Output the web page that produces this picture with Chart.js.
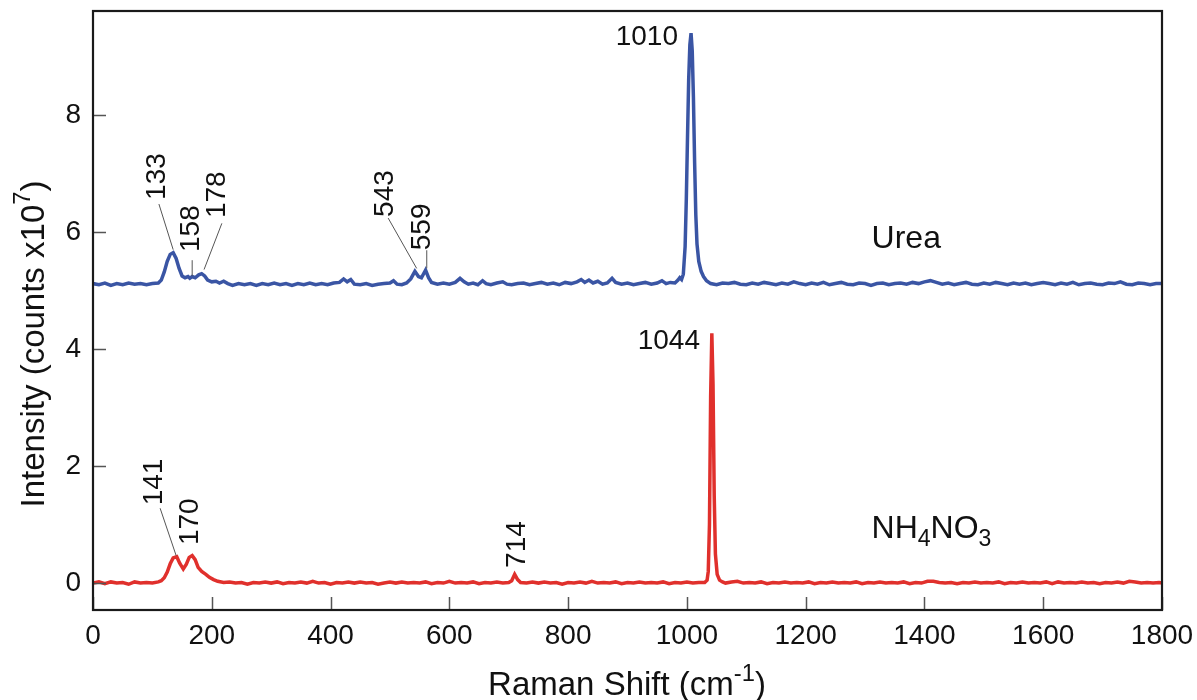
<!DOCTYPE html>
<html>
<head>
<meta charset="utf-8">
<script src="https://cdn.jsdelivr.net/npm/chart.js@4.4.1/dist/chart.umd.min.js"></script>
<style>
  html, body { margin: 0; padding: 0; background: #fff; }
  #wrap { width: 1197px; height: 700px; }
</style>
</head>
<body>
<div id="wrap"><canvas id="ramanChart" width="1197" height="700"></canvas></div>
<script>
// Raman shift (cm-1) and intensity (counts x10^7)
const ureaShift = [0,10,20,30,40,50,60,70,80,90,100,110,115,120,125,130,135,140,145,150,155,160,163,167,172,178,183,188,193,200,207,213,220,227,235,245,255,265,275,285,295,305,315,325,335,345,355,365,375,385,395,405,415,422,428,434,440,450,460,470,480,490,500,506,512,520,528,535,542,548,553,560,565,570,580,590,600,610,618,625,632,640,648,656,662,670,680,690,697,705,715,725,735,745,755,765,775,785,795,805,815,822,828,835,842,850,858,866,874,880,890,900,910,920,930,940,950,958,965,972,980,985,988,991,994,997,999,1001,1003,1005,1007,1009,1011,1013,1015,1017,1020,1024,1028,1033,1040,1050,1060,1070,1080,1090,1100,1110,1120,1130,1140,1150,1160,1170,1180,1190,1200,1210,1220,1230,1240,1250,1260,1270,1280,1290,1300,1310,1320,1330,1340,1350,1360,1370,1380,1390,1400,1410,1420,1430,1440,1450,1460,1470,1480,1490,1500,1510,1520,1530,1540,1550,1560,1570,1580,1590,1600,1610,1620,1630,1640,1650,1660,1670,1680,1690,1700,1710,1720,1730,1740,1750,1760,1770,1780,1790,1800];
const ureaCounts = [5.12,5.10,5.13,5.09,5.12,5.10,5.13,5.11,5.12,5.10,5.12,5.13,5.18,5.32,5.50,5.62,5.65,5.55,5.38,5.25,5.22,5.24,5.21,5.24,5.22,5.27,5.29,5.25,5.18,5.15,5.16,5.13,5.16,5.12,5.09,5.12,5.10,5.12,5.09,5.12,5.10,5.13,5.10,5.12,5.09,5.12,5.10,5.13,5.10,5.12,5.10,5.13,5.14,5.20,5.15,5.19,5.11,5.10,5.12,5.09,5.11,5.12,5.13,5.17,5.11,5.10,5.13,5.20,5.33,5.24,5.22,5.35,5.22,5.14,5.11,5.13,5.11,5.14,5.21,5.15,5.11,5.13,5.10,5.17,5.12,5.10,5.13,5.15,5.11,5.10,5.12,5.13,5.10,5.12,5.14,5.11,5.13,5.10,5.14,5.12,5.15,5.19,5.14,5.18,5.13,5.16,5.11,5.13,5.21,5.14,5.11,5.13,5.10,5.12,5.14,5.11,5.13,5.17,5.12,5.14,5.13,5.18,5.22,5.19,5.28,5.75,6.55,7.60,8.60,9.20,9.40,9.10,8.30,7.20,6.30,5.80,5.50,5.33,5.24,5.17,5.12,5.10,5.13,5.12,5.14,5.11,5.10,5.13,5.11,5.14,5.12,5.10,5.13,5.11,5.15,5.12,5.10,5.13,5.11,5.14,5.10,5.12,5.14,5.11,5.10,5.13,5.12,5.09,5.12,5.13,5.10,5.12,5.13,5.11,5.14,5.12,5.15,5.17,5.14,5.11,5.13,5.10,5.12,5.14,5.11,5.10,5.13,5.11,5.14,5.12,5.10,5.13,5.11,5.13,5.10,5.12,5.14,5.12,5.10,5.13,5.11,5.14,5.10,5.12,5.13,5.11,5.10,5.13,5.12,5.15,5.11,5.10,5.13,5.12,5.10,5.12,5.12];

const nitrateShift = [0,10,20,30,40,50,60,70,80,90,100,110,115,120,125,130,135,141,146,152,157,162,167,172,177,183,190,196,203,210,220,230,240,250,260,270,280,290,300,310,320,330,340,350,360,370,380,390,400,410,420,430,440,450,460,470,480,490,500,510,520,530,540,550,560,570,580,590,600,610,620,630,640,650,660,670,680,690,700,705,710,715,720,730,740,750,760,770,780,790,800,810,820,830,840,850,860,870,880,890,900,910,920,930,940,950,960,970,980,990,1000,1010,1020,1030,1034,1036,1038,1040,1042,1044,1046,1048,1051,1055,1060,1065,1075,1085,1095,1105,1115,1125,1135,1145,1155,1165,1175,1185,1195,1205,1215,1225,1235,1245,1255,1265,1275,1285,1295,1305,1315,1325,1335,1345,1355,1365,1375,1385,1395,1405,1415,1425,1435,1445,1455,1465,1475,1485,1495,1505,1515,1525,1535,1545,1555,1565,1575,1585,1595,1605,1615,1625,1635,1645,1655,1665,1675,1685,1695,1705,1715,1725,1735,1745,1755,1765,1775,1785,1795,1800];
const nitrateCounts = [0.00,0.02,-0.01,0.02,0.00,0.01,-0.02,0.02,0.00,0.01,0.00,0.02,0.04,0.09,0.19,0.33,0.43,0.45,0.34,0.24,0.32,0.44,0.47,0.40,0.27,0.20,0.15,0.10,0.06,0.03,0.01,0.02,0.00,0.01,-0.02,0.01,0.00,0.02,0.00,0.02,-0.01,0.01,0.00,0.02,0.00,0.03,0.00,0.01,-0.02,0.01,0.00,0.02,0.00,0.02,0.00,0.01,-0.02,0.00,0.02,0.00,0.02,0.00,0.01,0.00,0.02,-0.01,0.01,0.00,0.03,0.00,0.01,0.00,0.02,-0.01,0.01,0.00,0.02,0.00,0.01,0.04,0.15,0.06,0.01,0.00,0.02,0.00,0.02,0.00,0.01,-0.02,0.01,0.00,0.02,0.00,0.03,0.00,0.01,0.00,0.02,-0.01,0.01,0.00,0.02,0.00,0.01,0.00,0.02,-0.01,0.01,0.00,0.02,0.00,0.01,0.01,0.05,0.20,1.00,3.20,4.27,3.40,1.50,0.50,0.15,0.05,0.02,0.00,0.02,0.03,0.00,0.01,0.00,0.02,-0.01,0.01,0.00,0.02,0.00,0.01,0.00,0.02,-0.01,0.01,0.00,0.02,0.00,0.01,0.00,0.02,-0.01,0.01,0.00,0.02,0.00,0.01,0.00,0.02,-0.01,0.01,0.00,0.03,0.03,0.01,0.00,0.01,-0.01,0.01,0.00,0.02,0.00,0.01,0.00,0.02,-0.01,0.01,0.00,0.02,0.00,0.01,0.00,0.02,-0.01,0.02,0.00,0.01,0.00,0.02,0.00,0.01,-0.01,0.01,0.00,0.02,0.00,0.03,0.02,0.00,0.01,0.00,0.01,0.00];

const xTickValues = [0,200,400,600,800,1000,1200,1400,1600,1800];
const yTickValues = [0,2,4,6,8];

const seriesNames = ['Urea', 'NH4NO3'];

// peak labels: text, anchor (data units), leader line (data units)
const peakLabels = [
  { text: '133', x: 108, y: 6.55, rotate: true, line: [111, 6.48, 135, 5.70] },
  { text: '158', x: 165, y: 5.66, rotate: true, line: [167, 5.52, 167, 5.25] },
  { text: '178', x: 209, y: 6.24, rotate: true, line: [217, 6.15, 187, 5.36] },
  { text: '543', x: 492, y: 6.26, rotate: true, line: [497, 6.24, 545, 5.38] },
  { text: '559', x: 555, y: 5.69, rotate: true, line: [562, 5.69, 562, 5.38] },
  { text: '1010', x: 985, y: 9.33, rotate: false },
  { text: '141', x: 104, y: 1.33, rotate: true, line: [113, 1.28, 140, 0.47] },
  { text: '170', x: 163, y: 0.65, rotate: true },
  { text: '714', x: 714, y: 0.26, rotate: true },
  { text: '1044', x: 1022, y: 4.14, rotate: false }
];

const FONT = '"Liberation Sans", Arial, Helvetica, sans-serif';
const ureaColor = '#3a55a4';
const nitrateColor = '#e0302c';

function toPoints(xs, ys) {
  return xs.map((x, i) => ({ x: x, y: ys[i] }));
}

// draws text made of parts, some raised or lowered
function drawRich(ctx, parts, x, y, size) {
  let cx = x;
  parts.forEach(p => {
    const s = p.shift ? size * 0.72 : size;
    ctx.font = s + 'px ' + FONT;
    const dy = p.shift === 'sup' ? -size * 0.42 : p.shift === 'sub' ? size * 0.24 : 0;
    ctx.fillText(p.t, cx, y + dy);
    cx += ctx.measureText(p.t).width;
  });
  return cx - x;
}
function richWidth(ctx, parts, size) {
  let w = 0;
  parts.forEach(p => {
    ctx.font = (p.shift ? size * 0.72 : size) + 'px ' + FONT;
    w += ctx.measureText(p.t).width;
  });
  return w;
}

const framePlugin = {
  id: 'frame',
  afterDatasetsDraw(chart) {
    const { ctx, chartArea: a, scales: { x, y } } = chart;
    ctx.save();
    // tick marks pointing inward
    ctx.strokeStyle = '#555';
    ctx.lineWidth = 1.5;
    ctx.beginPath();
    xTickValues.forEach(v => {
      const px = Math.round(x.getPixelForValue(v)) + 0.5;
      ctx.moveTo(px, a.bottom);
      ctx.lineTo(px, a.bottom - 13);
    });
    yTickValues.forEach(v => {
      const py = Math.round(y.getPixelForValue(v)) + 0.5;
      ctx.moveTo(a.left, py);
      ctx.lineTo(a.left + 13, py);
    });
    ctx.stroke();
    // box
    ctx.strokeStyle = '#1a1a1a';
    ctx.lineWidth = 2.2;
    ctx.strokeRect(a.left, a.top, a.right - a.left, a.bottom - a.top);

    // peak labels + leaders
    ctx.fillStyle = '#111';
    ctx.font = '28px ' + FONT;
    peakLabels.forEach(l => {
      const px = x.getPixelForValue(l.x);
      const py = y.getPixelForValue(l.y);
      if (l.rotate) {
        ctx.save();
        ctx.translate(px, py);
        ctx.rotate(-Math.PI / 2);
        ctx.textAlign = 'left';
        ctx.textBaseline = 'middle';
        ctx.fillText(l.text, 0, 0);
        ctx.restore();
      } else {
        ctx.textAlign = 'right';
        ctx.textBaseline = 'middle';
        ctx.fillText(l.text, px, py);
      }
      if (l.line) {
        ctx.strokeStyle = '#555';
        ctx.lineWidth = 1;
        ctx.beginPath();
        ctx.moveTo(x.getPixelForValue(l.line[0]), y.getPixelForValue(l.line[1]));
        ctx.lineTo(x.getPixelForValue(l.line[2]), y.getPixelForValue(l.line[3]));
        ctx.stroke();
      }
    });

    // series names
    ctx.textAlign = 'left';
    ctx.textBaseline = 'alphabetic';
    ctx.fillStyle = '#111';
    ctx.font = '32px ' + FONT;
    ctx.fillText(seriesNames[0], x.getPixelForValue(1311), y.getPixelForValue(5.73));
    drawRich(ctx, [{ t: 'NH' }, { t: '4', shift: 'sub' }, { t: 'NO' }, { t: '3', shift: 'sub' }],
      x.getPixelForValue(1311), y.getPixelForValue(0.77), 32);

    // axis titles
    const ts = 33;
    const xt = [{ t: 'Raman Shift (cm' }, { t: '-1', shift: 'sup' }, { t: ')' }];
    const xw = richWidth(ctx, xt, ts);
    ctx.textAlign = 'left';
    drawRich(ctx, xt, 627 - xw / 2, 695, ts);

    const yt = [{ t: 'Intensity (counts x10' }, { t: '7', shift: 'sup' }, { t: ')' }];
    const yw = richWidth(ctx, yt, ts);
    ctx.save();
    ctx.translate(44, 344);
    ctx.rotate(-Math.PI / 2);
    drawRich(ctx, yt, -yw / 2, 0, ts);
    ctx.restore();

    ctx.restore();
  }
};

const ctx = document.getElementById('ramanChart');
const ramanChart = new Chart(ctx, {
  type: 'line',
  data: {
    datasets: [{
      label: seriesNames[0],
      data: toPoints(ureaShift, ureaCounts),
      borderColor: ureaColor,
      borderWidth: 3.5,
      pointRadius: 0,
      fill: false
    }, {
      label: seriesNames[1],
      data: toPoints(nitrateShift, nitrateCounts),
      borderColor: nitrateColor,
      borderWidth: 3.5,
      pointRadius: 0,
      fill: false
    }]
  },
  options: {
    responsive: false,
    animation: false,
    devicePixelRatio: 1,
    layout: { padding: { top: 11, right: 35, left: 0, bottom: 0 } },
    plugins: { legend: { display: false }, tooltip: { enabled: false } },
    scales: {
      x: {
        type: 'linear',
        min: 0,
        max: 1800,
        grid: { display: false, drawTicks: false },
        border: { display: false },
        afterBuildTicks: s => { s.ticks = xTickValues.map(v => ({ value: v })); },
        afterFit: s => { s.height = 90; s.paddingLeft = 0; s.paddingRight = 0; },
        ticks: { color: '#111', font: { family: FONT, size: 28 }, padding: 9, maxRotation: 0, callback: v => String(v) }
      },
      y: {
        type: 'linear',
        min: -0.46,
        max: 9.78,
        grid: { display: false, drawTicks: false },
        border: { display: false },
        afterBuildTicks: s => { s.ticks = yTickValues.map(v => ({ value: v })); },
        afterFit: s => { s.width = 93; s.paddingTop = 0; s.paddingBottom = 0; },
        ticks: { color: '#111', font: { family: FONT, size: 28 }, padding: 12, callback: v => String(v) }
      }
    }
  },
  plugins: [framePlugin]
});
</script>
</body>
</html>
